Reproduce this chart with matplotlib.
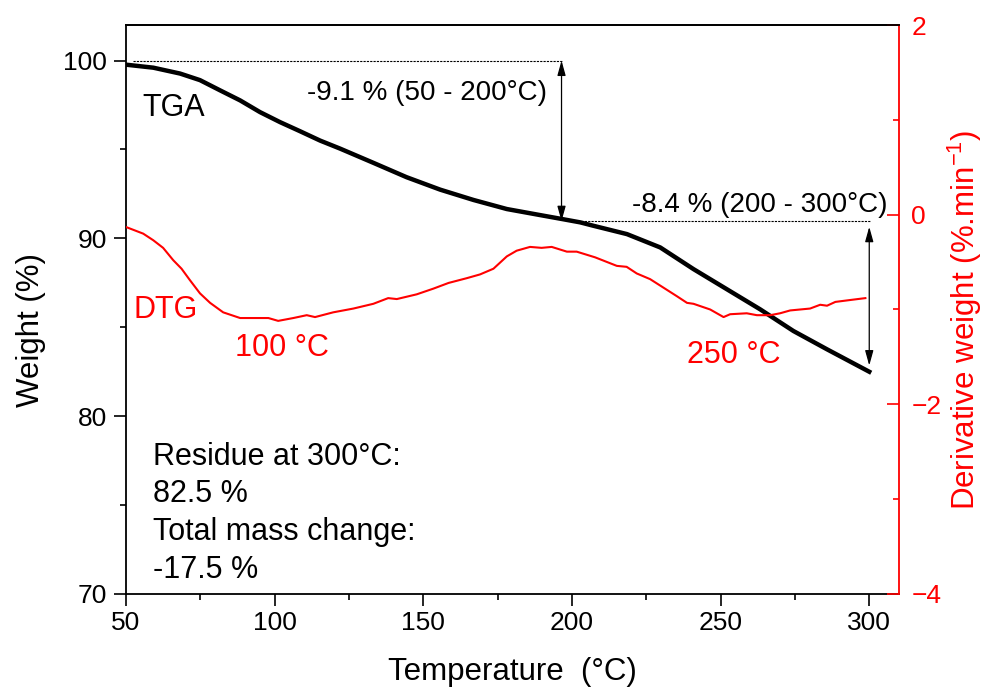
import numpy as np
import matplotlib
matplotlib.use("Agg")
import matplotlib.pyplot as plt
from matplotlib.ticker import MultipleLocator

plt.rcParams["font.family"] = ["Liberation Sans", "DejaVu Sans"]
plt.rcParams["mathtext.default"] = "regular"

# TGA curve: temperature (C) vs weight (%)
tga_temp = [50, 59.2, 68.2, 74.9, 81.6, 88.4, 95.1, 101.8, 108.5, 115.3, 122.0,
            133.2, 144.4, 155.7, 166.9, 178.1, 189.3, 196.6, 202.8, 207.2,
            218.5, 229.7, 240.9, 252.1, 263.3, 274.5, 285.8, 300]
tga_weight = [99.77, 99.6, 99.27, 98.9, 98.33, 97.76, 97.1, 96.54, 96.03, 95.5,
              95.05, 94.25, 93.44, 92.74, 92.16, 91.65, 91.31, 91.09, 90.9,
              90.71, 90.24, 89.49, 88.27, 87.14, 86.01, 84.79, 83.76, 82.5]

# DTG curve: temperature (C) vs derivative weight (%/min)
dtg_temp = [50, 55.8, 59.2, 62.5, 65.9, 68.7, 71.5, 74.9, 78.3, 82.7, 88.4,
            92.8, 97.9, 101.2, 106.3, 110.8, 113.6, 119.7, 126.5, 133.2, 138.2,
            141.1, 147.8, 153.4, 158.5, 164.6, 169.1, 173.6, 178.1, 181.4,
            185.9, 189.8, 193.2, 198.3, 201.6, 207.8, 215.1, 218.4, 221.8,
            226.3, 230.8, 235.3, 238.7, 240.9, 246.5, 251.0, 253.2, 258.8,
            262.2, 266.7, 270.0, 273.4, 280.1, 283.5, 285.8, 288.6, 293.6, 298.7]
dtg_value = [-0.13, -0.20, -0.27, -0.35, -0.48, -0.57, -0.69, -0.83, -0.93,
             -1.03, -1.09, -1.09, -1.09, -1.12, -1.09, -1.06, -1.08, -1.03,
             -0.99, -0.94, -0.88, -0.89, -0.84, -0.78, -0.72, -0.67, -0.63,
             -0.57, -0.44, -0.38, -0.34, -0.35, -0.34, -0.39, -0.39, -0.45,
             -0.54, -0.55, -0.62, -0.68, -0.77, -0.86, -0.93, -0.94, -1.00,
             -1.08, -1.05, -1.04, -1.06, -1.06, -1.04, -1.01, -0.99, -0.95,
             -0.96, -0.92, -0.90, -0.88]

# mass-loss steps: (start weight, end weight, x position of arrow)
step1 = (100.0, 90.97, 196.5)
step2 = (90.65, 82.85, 300.0)

red = "#FF0000"

fig = plt.figure(figsize=(9.84, 6.93), dpi=100)
ax = fig.add_axes([0.128, 0.1429, 0.7856, 0.8210])
ax2 = ax.twinx()

ax.plot(tga_temp, tga_weight, color="black", lw=3.2, zorder=3)
ax2.plot(dtg_temp, dtg_value, color=red, lw=1.5)

ax.set_xlim(50, 310)
ax.set_ylim(70, 102)
ax2.set_ylim(-4, 2)

ax.xaxis.set_major_locator(MultipleLocator(50))
ax.xaxis.set_minor_locator(MultipleLocator(25))
ax.yaxis.set_major_locator(MultipleLocator(10))
ax.yaxis.set_minor_locator(MultipleLocator(5))
ax2.yaxis.set_major_locator(MultipleLocator(2))
ax2.yaxis.set_minor_locator(MultipleLocator(1))

ax.tick_params(axis="both", which="major", direction="out", length=8.5,
               width=1.2, labelsize=19, right=False)
ax.tick_params(axis="both", which="minor", direction="out", length=4.5,
               width=1.2, right=False)
ax.tick_params(axis="x", which="major", pad=4)
ax.tick_params(axis="y", which="major", pad=5)
ax2.tick_params(axis="y", which="major", direction="in", length=8.5, width=1.2,
                colors=red, labelsize=19, pad=9)
ax2.tick_params(axis="y", which="minor", direction="in", length=4.5, width=1.2,
                colors=red)
# small inward ticks along the top frame
ax2.tick_params(axis="x", which="both", top=True, bottom=False, labeltop=False,
                labelbottom=False, direction="in", length=2.5, width=1.0)

for s in ax.spines.values():
    s.set_linewidth(1.3)
for s in ax2.spines.values():
    s.set_linewidth(1.3)
ax.spines["right"].set_visible(False)
ax2.spines["right"].set_color(red)
ax2.spines["left"].set_visible(False)
ax2.spines["bottom"].set_visible(False)

ax.set_xlabel("Temperature  (\u00b0C)", fontsize=22.5)
ax.xaxis.set_label_coords(0.5, -0.111)
ax.set_ylabel("Weight (%)", fontsize=22.5)
ax.yaxis.set_label_coords(-0.103, 0.464)
ax2.set_ylabel("Derivative weight (%.min$^{-1}$)", fontsize=22.5, color=red)
ax2.yaxis.set_label_coords(1.06, 0.482)

# guide lines and double arrows for each mass-loss step
ax.plot([52.5, step1[2]], [step1[0], step1[0]], color="black", lw=0.8,
        ls=(0, (2, 1)))
ax.plot([203, 300.7], [step1[1], step1[1]], color="black", lw=0.8,
        ls=(0, (2, 1)))
for w0, w1, x in (step1, step2):
    ax.annotate("", xy=(x, w1), xytext=(x, w0),
                arrowprops=dict(arrowstyle="<|-|>,head_length=0.9,head_width=0.25",
                                color="black", lw=0.9, shrinkA=0, shrinkB=0))

ax.text(55.4, 96.9, "TGA", fontsize=22, va="baseline")
ax.text(110.9, 97.8, "-9.1 % (50 - 200\u00b0C)", fontsize=20, va="baseline")
ax.text(306.0, 91.48, "-8.4 % (200 - 300\u00b0C)", fontsize=20,
        va="baseline", ha="right")
ax.text(52.4, 85.5, "DTG", fontsize=22, va="baseline", color=red)
ax.text(86.7, 83.4, "100 \u00b0C", fontsize=22, va="baseline", color=red)
ax.text(238.8, 83.0, "250 \u00b0C", fontsize=22, va="baseline", color=red)

summary = ["Residue at 300\u00b0C:", "82.5 %", "Total mass change:", "-17.5 %"]
for i, line in enumerate(summary):
    ax.text(59.1, 77.27 - i * 2.125, line, fontsize=22, va="baseline")

fig.savefig("out.png", dpi=100)
